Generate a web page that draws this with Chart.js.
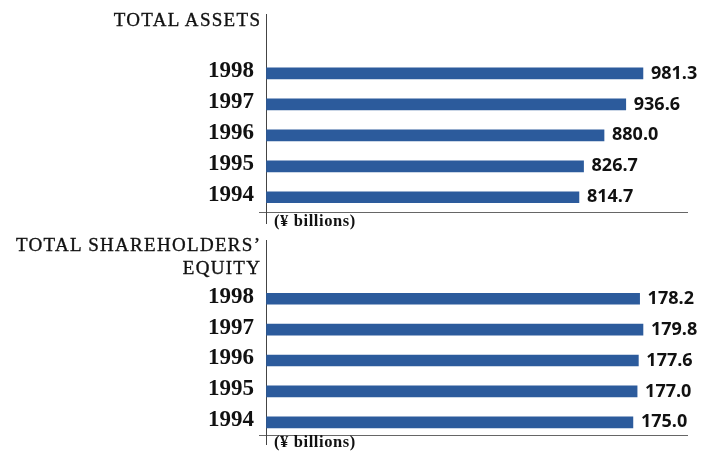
<!DOCTYPE html>
<html><head><meta charset="utf-8">
<script src="https://cdn.jsdelivr.net/npm/chart.js@4/dist/chart.umd.min.js"></script>
<style>
html,body{margin:0;padding:0;background:#fff;}
#wrap{position:relative;width:703px;height:456px;overflow:hidden;background:#fff;}
.c{position:absolute;left:0;width:703px;height:228px;}
.ttl{position:absolute;font-family:"Liberation Serif",serif;font-size:19px;letter-spacing:1.3px;color:#111;-webkit-text-stroke:0.35px #111;text-align:right;white-space:nowrap;}
.unit{position:absolute;left:274px;font-family:"Liberation Serif",serif;font-weight:bold;font-size:16.5px;line-height:16.5px;letter-spacing:0.6px;color:#111;white-space:nowrap;}
</style></head><body>
<div id="wrap">
<div class="c" style="top:0"><canvas id="c1" width="703" height="228"></canvas></div>
<div class="c" style="top:228px"><canvas id="c2" width="703" height="228"></canvas></div>
<div class="ttl" id="t1" style="right:441.7px;top:10px;line-height:19px;"></div>
<div class="ttl" id="t2" style="right:441.7px;top:234px;line-height:22.6px;"></div>
<div class="unit" id="u1" style="top:213px;"></div>
<div class="unit" id="u2" style="top:434px;"></div>
</div>
<script>
// ---- data ----
const years = ['1998', '1997', '1996', '1995', '1994'];
const totalAssets = [981.3, 936.6, 880.0, 826.7, 814.7];
const shareholdersEquity = [178.2, 179.8, 177.6, 177.0, 175.0];
const titleAssets = 'TOTAL ASSETS';
const titleEquity = 'TOTAL SHAREHOLDERS\u2019<br>EQUITY';
const unitLabel = '(\u00A5 billions)';

const BAR = '#2c5b9c';
const AXIS = '#444';

document.getElementById('t1').innerHTML = titleAssets;
document.getElementById('t2').innerHTML = titleEquity;
document.getElementById('u1').textContent = unitLabel;
document.getElementById('u2').textContent = unitLabel;

const valueLabels = {
  id: 'valueLabels',
  afterDatasetsDraw(chart) {
    const ctx = chart.ctx;
    const meta = chart.getDatasetMeta(0);
    const ds = chart.data.datasets[0].data;
    ctx.save();
    ctx.font = '700 18px "Open Sans", sans-serif';
    ctx.fillStyle = '#111';
    ctx.textBaseline = 'middle';
    ctx.textAlign = 'left';
    meta.data.forEach((bar, i) => {
      ctx.fillText(ds[i].x.toFixed(1), bar.x + 8, bar.y);
    });
    ctx.restore();
  }
};

function makeChart(id, values, opt) {
  const n = years.length;
  const points = values.map((v, i) => ({ x: v, y: n - 1 - i }));
  const labelOf = v => {
    const i = n - 1 - v;
    return (Number.isInteger(v) && i >= 0 && i < n) ? years[i] : '';
  };
  return new Chart(document.getElementById(id), {
    type: 'bar',
    data: { datasets: [{ data: points, backgroundColor: BAR, borderWidth: 0, barThickness: 11 }] },
    options: {
      indexAxis: 'y',
      responsive: false,
      animation: false,
      devicePixelRatio: 1,
      layout: { padding: { top: opt.top, right: 16, bottom: opt.bottom, left: 0 } },
      plugins: { legend: { display: false }, tooltip: { enabled: false }, title: { display: false } },
      scales: {
        x: {
          type: 'linear', min: 0, max: opt.xMax, offset: false,
          afterFit: s => { s.height = opt.tick; s.paddingLeft = 0; s.paddingRight = 0; },
          ticks: { display: false },
          grid: {
            offset: false, drawOnChartArea: false, drawTicks: true, tickLength: opt.tick, lineWidth: 1,
            color: c => (c.tick && c.tick.value === 0) ? AXIS : 'rgba(0,0,0,0)'
          },
          border: { display: true, color: '#666', width: 1 }
        },
        y: {
          type: 'linear', min: opt.yMin, max: opt.yMax, offset: false,
          afterFit: s => { s.width = 266; s.paddingTop = 0; s.paddingBottom = 0; },
          afterBuildTicks: s => { s.ticks = [{ value: s.min }].concat(years.map((_, i) => ({ value: i }))); },
          ticks: {
            callback: v => labelOf(v),
            font: { family: '"Liberation Serif", serif', weight: 'bold', size: 23 },
            color: '#111', padding: 5, labelOffset: -2, autoSkip: false
          },
          grid: {
            offset: false, drawOnChartArea: false, drawTicks: true, tickLength: 7, lineWidth: 1,
            color: c => c.index === 0 ? '#666' : 'rgba(0,0,0,0)'
          },
          border: { display: true, color: AXIS, width: 1 }
        }
      }
    },
    plugins: [valueLabels]
  });
}

function draw() {
  makeChart('c1', totalAssets, { top: 14, bottom: 4, tick: 12, xMax: 1096, yMin: -0.475, yMax: 5.92 });
  makeChart('c2', shareholdersEquity, { top: 12, bottom: 11, tick: 10, xMax: 200.8, yMin: -0.41, yMax: 5.9 });
}
Promise.all([
  document.fonts.load('700 18px "Open Sans"'),
  document.fonts.load('bold 23px "Liberation Serif"'),
  document.fonts.load('19px "Liberation Serif"')
]).then(draw, draw);
</script>
</body></html>
